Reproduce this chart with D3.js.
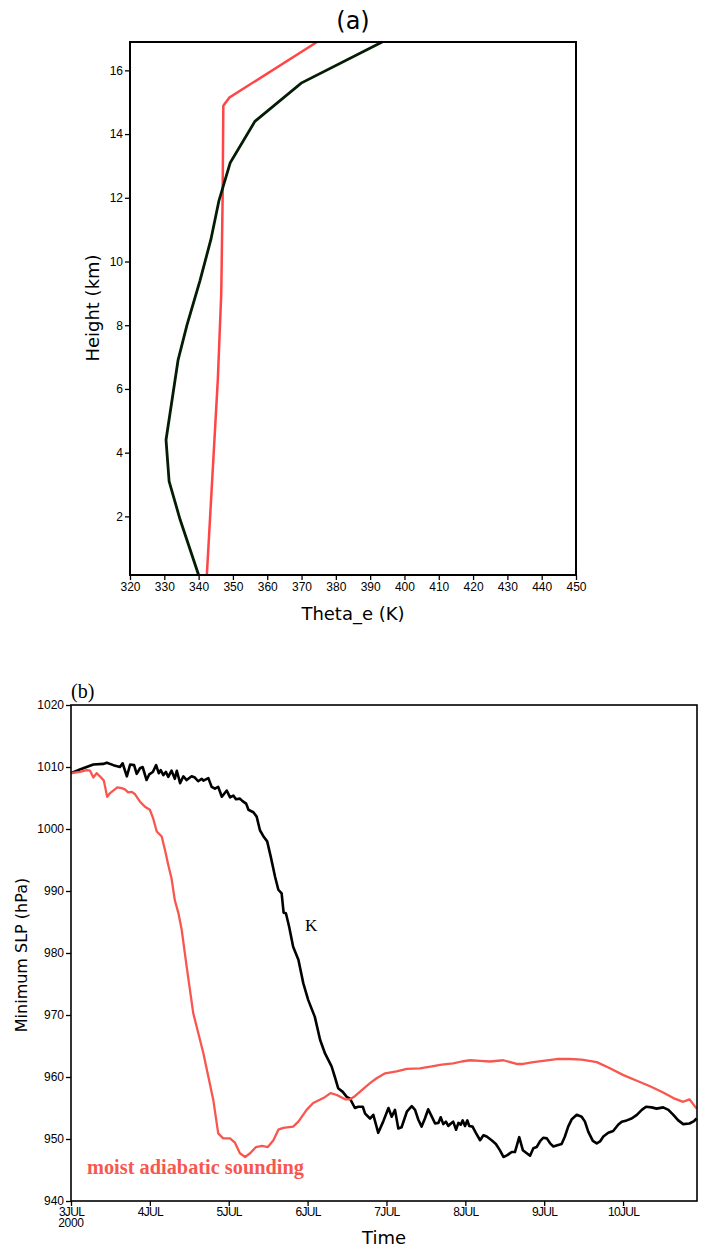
<!DOCTYPE html>
<html><head><meta charset="utf-8">
<script src="https://cdn.jsdelivr.net/npm/d3@7"></script>
<style>html,body{margin:0;padding:0;background:#fff}svg{display:block}</style>
</head><body>
<svg id="c" width="702" height="1254"></svg>
<script>
// ---------- Panel (a): theta_e profiles ----------
const thetaTicks = [320,330,340,350,360,370,380,390,400,410,420,430,440,450];
const heightTicks = [2,4,6,8,10,12,14,16];
const heightCtl = [0.16,1.9,3.1,4.4,6.9,8.0,9.4,10.7,11.9,13.1,14.4,15.6,16.89];
const thetaCtl  = [340.0,334.6,331.4,330.5,334.0,336.6,340.4,343.6,345.9,349.2,356.4,369.9,393.5];
const heightMoist = [0.16,6.3,9.0,12.0,14.89,15.15,16.89];
const thetaMoist  = [342.4,345.6,346.6,347.0,347.2,349.0,374.5];

// ---------- Panel (b): minimum SLP time series (hours since 3JUL 00) ----------
const dayTickHours = [0,24,48,72,96,120,144,168];
const dayTickLabels = ["3JUL","4JUL","5JUL","6JUL","7JUL","8JUL","9JUL","10JUL"];
const slpTicks = [940,950,960,970,980,990,1000,1010,1020];
const hoursK = [0,2.7,6.8,9.8,10.9,12.9,14.9,15.7,17.0,18.0,19.2,20.0,21.0,21.8,23.0,23.8,24.9,25.9,26.7,27.3,28.1,28.9,29.6,30.6,31.6,32.2,33.2,34.2,35.2,36.7,37.7,38.7,39.8,40.3,41.8,42.8,43.8,44.8,45.9,47.4,48.4,49.4,50.2,51.4,52.2,53.3,54.0,55.5,56.5,57.5,58.7,59.7,60.8,62.1,63.1,64.1,64.7,65.4,66.4,67.6,69.2,70.7,72.2,74.2,75.8,77.3,79.3,80.3,81.3,82.7,83.9,84.9,86.4,87.4,88.8,89.5,91.0,92.0,93.5,95.0,96.6,97.6,98.6,99.6,100.6,102.2,103.7,104.7,105.7,106.7,107.7,108.7,109.8,110.8,111.8,112.5,113.3,114.1,114.8,115.6,116.3,117.2,117.9,118.6,119.2,119.9,120.6,121.2,122.2,123.2,124.5,125.5,126.5,128.0,129.3,130.5,131.6,132.8,134.1,135.1,136.4,137.5,138.7,139.7,140.7,141.7,142.7,143.7,144.8,145.8,146.8,148.0,149.3,150.3,151.3,152.4,153.9,155.4,156.4,157.4,158.8,160.0,161.0,162.0,163.5,165.0,166.5,167.6,169.1,170.6,172.2,173.7,175.0,176.7,178.2,180.2,181.8,183.3,184.8,186.3,188.2,189.6,190.4];
const slpK = [1009.0,1009.6,1010.4,1010.5,1010.7,1010.3,1010.0,1010.6,1008.5,1010.4,1010.3,1008.9,1009.8,1010.0,1007.9,1008.8,1009.2,1010.3,1009.0,1009.5,1008.7,1009.2,1008.4,1009.4,1008.1,1009.4,1007.4,1008.5,1007.9,1008.5,1008.3,1007.7,1008.1,1007.8,1008.2,1006.8,1006.5,1006.8,1005.2,1006.2,1005.1,1005.4,1004.8,1004.9,1004.5,1004.1,1003.1,1002.7,1002.0,999.8,998.7,998.0,995.5,992.3,990.2,989.6,986.5,986.4,984.2,981.0,978.9,975.1,972.4,969.7,966.0,963.8,961.7,960.0,958.2,957.6,956.8,956.5,955.0,955.2,955.2,954.1,953.3,953.9,951.0,952.8,955.0,953.6,954.7,951.7,951.9,954.4,955.3,954.7,953.1,952.0,953.3,954.8,953.6,952.5,952.6,953.5,952.4,952.8,952.1,952.5,952.8,951.5,952.6,952.3,953.0,952.1,953.0,952.1,952.0,951.0,949.8,950.6,950.4,949.8,949.2,948.2,947.1,947.4,947.9,947.9,950.3,948.2,947.7,947.3,948.5,948.7,949.6,950.2,950.1,949.3,948.8,949.0,949.2,950.4,952.0,953.2,953.9,953.6,952.8,951.2,949.7,949.3,949.6,950.4,951.0,951.3,952.3,952.8,953.0,953.3,953.9,954.7,955.2,955.1,954.9,955.1,954.7,953.9,953.0,952.4,952.5,952.9,953.3];
const hoursMoist = [0,2.7,4.8,5.8,6.8,7.8,8.8,10.0,11.0,11.9,14.1,15.4,16.4,17.4,18.5,19.5,21.0,22.5,24.0,25.0,26.1,27.6,28.6,29.6,30.6,31.6,32.7,33.7,35.2,37.2,40.3,43.3,44.8,46.3,48.4,49.9,51.4,53.0,54.5,56.3,58.1,59.9,61.6,63.1,64.6,67.6,69.2,71.7,73.7,76.8,79.0,80.9,83.4,84.9,86.4,88.5,91.0,93.0,95.6,99.1,102.2,106.2,109.8,112.8,116.3,118.9,121.4,124.5,127.5,131.6,135.6,137.6,140.7,143.7,147.8,151.8,155.4,160.0,164.0,168.1,172.2,176.2,180.2,183.3,186.3,188.2,190.4];
const slpMoist = [1009.0,1009.2,1009.5,1009.4,1008.3,1009.0,1008.5,1007.8,1005.2,1005.8,1006.7,1006.6,1006.4,1005.9,1006.0,1005.6,1004.4,1003.6,1003.1,1001.7,999.6,998.8,996.6,994.2,992.0,988.5,986.4,983.7,977.8,970.3,963.8,956.3,950.9,950.1,950.1,949.4,947.7,947.1,947.7,948.7,948.9,948.7,949.8,951.5,951.8,952.0,952.8,954.7,955.8,956.6,957.4,957.1,956.4,956.4,956.9,957.9,959.0,959.8,960.6,960.9,961.3,961.4,961.7,962.0,962.2,962.5,962.7,962.6,962.5,962.7,962.1,962.1,962.4,962.6,962.9,962.9,962.8,962.4,961.4,960.3,959.4,958.5,957.5,956.6,956.0,956.4,954.9];

const svg = d3.select("#c");
const sans = "'Liberation Sans', Arial, sans-serif";
const titleFont = "'DejaVu Sans', sans-serif";
const serif = "'Liberation Serif', 'DejaVu Serif', serif";

function styleAxis(g){
  g.select(".domain").remove();
  g.selectAll("text").attr("font-family",sans).attr("font-size",12).attr("fill","#000");
  g.selectAll("line").attr("stroke","#000").attr("stroke-width",1.3);
}

// ===== Panel (a) =====
const ax = d3.scaleLinear().domain([320,450]).range([130,576]);
const ay = d3.scaleLinear().domain([0.16,16.89]).range([575,42]);
const ga = svg.append("g");
ga.append("g").attr("transform","translate(0,575)")
  .call(d3.axisBottom(ax).tickValues(thetaTicks).tickSize(5).tickPadding(2).tickFormat(d3.format("d")))
  .call(styleAxis);
ga.append("g").attr("transform","translate(130,0)")
  .call(d3.axisLeft(ay).tickValues(heightTicks).tickSize(5).tickPadding(2).tickFormat(d3.format("d")))
  .call(styleAxis);
const lineA = d3.line().x(d=>ax(d[1])).y(d=>ay(d[0]));
ga.append("path").datum(heightMoist.map((h,i)=>[h,thetaMoist[i]]))
  .attr("d",lineA).attr("fill","none").attr("stroke","#ff4545").attr("stroke-width",2.5);
ga.append("path").datum(heightCtl.map((h,i)=>[h,thetaCtl[i]]))
  .attr("d",lineA).attr("fill","none").attr("stroke","#041c04").attr("stroke-width",2.8);
ga.append("rect").attr("x",130).attr("y",42).attr("width",446).attr("height",533)
  .attr("fill","none").attr("stroke","#000").attr("stroke-width",2);
ga.append("text").attr("x",353).attr("y",29).attr("text-anchor","middle")
  .attr("font-family",titleFont).attr("font-size",24).attr("fill","#000").text("(a)");
ga.append("text").attr("x",353).attr("y",620).attr("text-anchor","middle")
  .attr("font-family",titleFont).attr("font-size",18).attr("fill","#000").text("Theta_e (K)");
ga.append("text").attr("transform","translate(99,308) rotate(-90)").attr("text-anchor","middle")
  .attr("font-family",titleFont).attr("font-size",18).attr("fill","#000").text("Height (km)");

// ===== Panel (b) =====
const bx = d3.scaleLinear().domain([0,190.5]).range([71,697]);
const by = d3.scaleLinear().domain([940,1020]).range([1201,705]);
const gb = svg.append("g");
const xAx = gb.append("g").attr("transform","translate(0,1201)")
  .call(d3.axisBottom(bx).tickValues(dayTickHours).tickSize(5).tickPadding(1).tickFormat((d,i)=>dayTickLabels[i]))
  .call(styleAxis)
  .call(g=>g.selectAll("text").attr("letter-spacing","-0.7"));
xAx.append("text").attr("x",bx(0)).attr("y",26).attr("text-anchor","middle")
  .attr("font-family",sans).attr("font-size",12).attr("fill","#000").attr("letter-spacing","-0.3").text("2000");
gb.append("g").attr("transform","translate(71,0)")
  .call(d3.axisLeft(by).tickValues(slpTicks).tickSize(5).tickPadding(2).tickFormat(d3.format("d")))
  .call(styleAxis);
const lineB = d3.line().x(d=>bx(d[0])).y(d=>by(d[1]));
gb.append("path").datum(hoursK.map((h,i)=>[h,slpK[i]]))
  .attr("d",lineB).attr("fill","none").attr("stroke","#000").attr("stroke-width",2.6).attr("stroke-linejoin","round");
gb.append("path").datum(hoursMoist.map((h,i)=>[h,slpMoist[i]]))
  .attr("d",lineB).attr("fill","none").attr("stroke","#f7574f").attr("stroke-width",2.3).attr("stroke-linejoin","round");
gb.append("rect").attr("x",71).attr("y",705).attr("width",626).attr("height",496)
  .attr("fill","none").attr("stroke","#000").attr("stroke-width",1.6);
gb.append("text").attr("x",71).attr("y",698).attr("font-family",serif).attr("font-size",20).text("(b)");
gb.append("text").attr("x",305).attr("y",931).attr("font-family",serif).attr("font-size",17).text("K");
gb.append("text").attr("x",87).attr("y",1174).attr("font-family",serif).attr("font-size",20)
  .attr("font-weight","bold").attr("fill","#f7574f")
  .attr("textLength",217).attr("lengthAdjust","spacingAndGlyphs").text("moist adiabatic sounding");
gb.append("text").attr("x",384).attr("y",1244).attr("text-anchor","middle")
  .attr("font-family",titleFont).attr("font-size",18).attr("fill","#000").text("Time");
gb.append("text").attr("transform","translate(27,955) rotate(-90)").attr("text-anchor","middle")
  .attr("font-family",titleFont).attr("font-size",16).attr("fill","#000").text("Minimum SLP (hPa)");
</script>
</body></html>
